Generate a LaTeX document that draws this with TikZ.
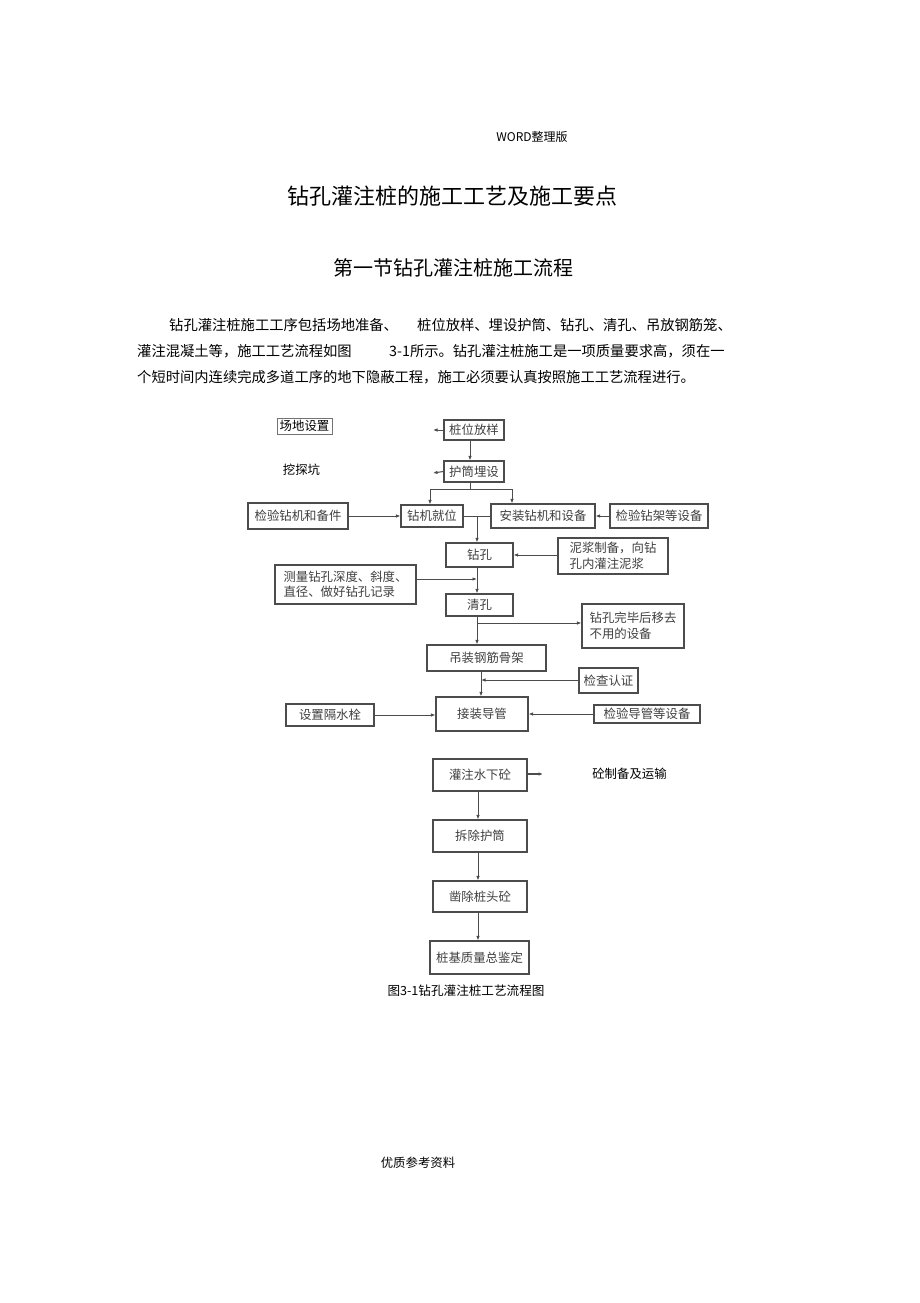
\documentclass[tikz,border=0pt]{standalone}
\usepackage{fontspec}
\setmainfont{Noto Sans CJK SC}
\usetikzlibrary{arrows.meta}
\tikzset{
  box/.style={draw=black!70, line width=1.1pt, inner sep=0pt, text=black!75, font=\fontsize{12.4}{15.5}\selectfont, align=left},
  plain/.style={inner sep=0pt, text=black},
  arr/.style={draw=black!70, line width=1pt, -{Latex[length=4.5pt,width=3.5pt]}},
  ln/.style={draw=black!70, line width=1pt},
  para/.style={plain, anchor=west, font=\fontsize{14.3}{16}\selectfont}
}
\begin{document}
\begin{tikzpicture}[x=1pt,y=-1pt]
\path[use as bounding box, fill=white] (0,0) rectangle (920,1303);

% header texts
\node[plain, font=\fontsize{12}{14}\selectfont] (hdr) at (532,137) {WORD整理版};
\node[plain, font=\fontsize{22}{26}\selectfont] (title) at (452,196) {钻孔灌注桩的施工工艺及施工要点};
\node[plain, font=\fontsize{20}{24}\selectfont] (sec) at (453,268) {第一节钻孔灌注桩施工流程};

% paragraph
\node[para] (p1a) at (169,325) {钻孔灌注桩施工工序包括场地准备、};
\node[para] (p1b) at (417,325) {桩位放样、埋设护筒、钻孔、清孔、吊放钢筋笼、};
\node[para] (p2a) at (137,351) {灌注混凝土等，施工工艺流程如图};
\node[para] (p2b) at (389,351) {3-1所示。钻孔灌注桩施工是一项质量要求高，须在一};
\node[para] (p3) at (137,377) {个短时间内连续完成多道工序的地下隐蔽工程，施工必须要认真按照施工工艺流程进行。};

% flowchart boxes
\node[box, draw=black!55, line width=0.6pt, text=black, minimum width=55, minimum height=16] (cd) at (304.5,426) {场地设置};
\node[box, minimum width=60, minimum height=20] (zw) at (474,430) {桩位放样};
\node[box, minimum width=60, minimum height=21] (hw) at (474,471.5) {护筒埋设};
\node[plain, font=\fontsize{12.4}{15}\selectfont] (wt) at (301.5,470) {挖探坑};

\node[box, minimum width=100, minimum height=26] (jy) at (298,516) {检验钻机和备件};
\node[box, minimum width=62, minimum height=22] (jj) at (432,516) {钻机就位};
\node[box, minimum width=104, minimum height=24] (az) at (543,516) {安装钻机和设备};
\node[box, minimum width=98, minimum height=24] (jz) at (659,516) {检验钻架等设备};

\node[box, minimum width=67, minimum height=24] (zk) at (479.5,555) {钻孔};
\node[box, minimum width=110, minimum height=36] (nj) at (613,556) {泥浆制备，向钻\\孔内灌注泥浆};
\node[box, minimum width=141, minimum height=39] (cl) at (345.5,584.5) {测量钻孔深度、斜度、\\直径、做好钻孔记录};
\node[box, minimum width=67, minimum height=22] (qk) at (479.5,605) {清孔};
\node[box, minimum width=102, minimum height=44] (yc) at (633,626) {钻孔完毕后移去\\不用的设备};
\node[box, minimum width=119, minimum height=26] (dz) at (486.5,658) {吊装钢筋骨架};
\node[box, minimum width=59, minimum height=25] (jc) at (608.5,680.5) {检查认证};
\node[box, minimum width=92, minimum height=34] (jd) at (482,714) {接装导管};
\node[box, minimum width=88, minimum height=22] (gs) at (330,715) {设置隔水栓};
\node[box, minimum width=106, minimum height=18] (jdg) at (647,714) {检验导管等设备};

\node[box, minimum width=94, minimum height=32] (gz) at (480,775) {灌注水下砼};
\node[plain, font=\fontsize{12.4}{15}\selectfont] (hz) at (629.5,774) {砼制备及运输};
\node[box, minimum width=94, minimum height=32] (cc) at (480,836) {拆除护筒};
\node[box, minimum width=94, minimum height=31] (zc) at (480,896.5) {凿除桩头砼};
\node[box, minimum width=99, minimum height=33] (zj) at (479.5,957.5) {桩基质量总鉴定};

\node[plain, font=\fontsize{12.6}{15}\selectfont] (cap) at (466,991) {图3-1钻孔灌注桩工艺流程图};
\node[plain, font=\fontsize{12.4}{15}\selectfont] (ft) at (418,1163) {优质参考资料};

% coordinates
\coordinate (s1) at (433,430);
\coordinate (s2) at (433,473);
\coordinate (s3) at (543,774);
\coordinate (sp) at (470,489);
\coordinate (spl) at (430,489);
\coordinate (spr) at (512,489);
\coordinate (t1) at (477,516);
\coordinate (t2) at (477,579);
\coordinate (t3) at (477,623);
\coordinate (t4) at (481,680);

% connectors
\draw[arr] (zw.west) -- (s1);
\draw[arr] (hw.west) -- (s2);
\draw[arr] (zw.south -| sp) -- (hw.north -| sp);
\draw[ln] (hw.south -| sp) -- (sp);
\draw[ln] (spl) -- (spr);
\draw[arr] (spl) -- (spl |- jj.north);
\draw[arr] (spr) -- (spr |- az.north);
\draw[arr] (jy.east) -- (jj.west);
\draw[arr] (jz.west) -- (az.east);
\draw[ln] (jj.east) -- (az.west);
\draw[arr] (t1) -- (t1 |- zk.north);
\draw[arr] (nj.west |- zk.east) -- (zk.east);
\draw[arr] (t1 |- zk.south) -- (t1 |- qk.north);
\draw[arr] (cl.east |- t2) -- (t2);
\draw[arr] (t1 |- qk.south) -- (t1 |- dz.north);
\draw[arr] (t3) -- (yc.west |- t3);
\draw[arr] (t4 |- dz.south) -- (t4 |- jd.north);
\draw[arr] (jc.west |- t4) -- (t4);
\draw[arr] (gs.east) -- (gs.east -| jd.west);
\draw[arr] (jdg.west) -- (jd.east);
\draw[arr, line width=1.6pt] (gz.east |- s3) -- (s3);
\draw[arr] (gz.south -| 478,0) -- (cc.north -| 478,0);
\draw[arr] (cc.south -| 478,0) -- (zc.north -| 478,0);
\draw[arr] (zc.south -| 478,0) -- (zj.north -| 478,0);
\end{tikzpicture}
\end{document}
